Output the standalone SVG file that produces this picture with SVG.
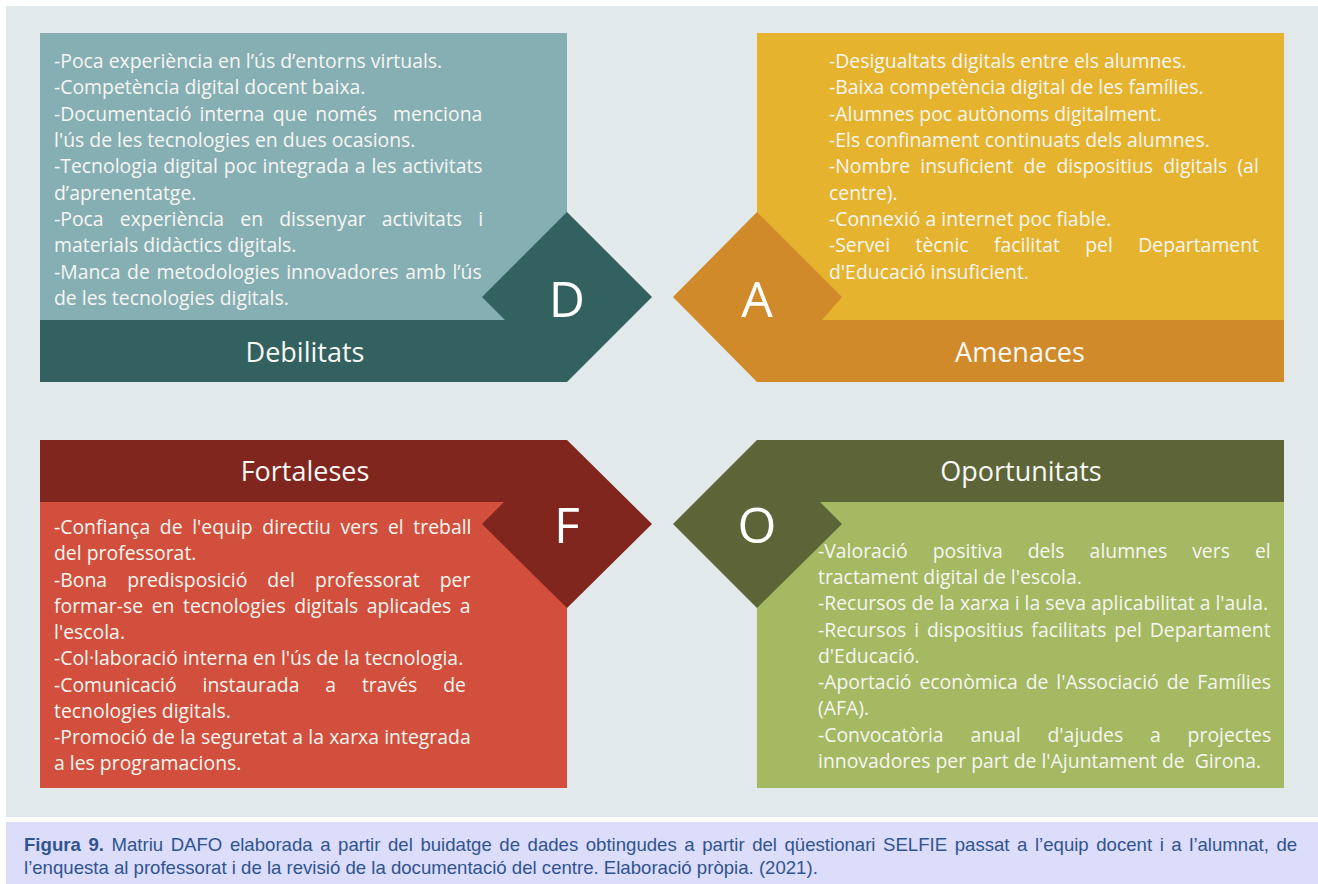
<svg xmlns="http://www.w3.org/2000/svg" width="1318" height="884" viewBox="0 0 1318 884">
<style>
.t{font-family:"Open Sans","Noto Sans",sans-serif;font-size:19.4px;fill:#f6f6f2}
.h{font-family:"Open Sans","Noto Sans",sans-serif;font-size:27px;fill:#f8f8f5;text-anchor:middle}
.L{font-family:"Open Sans","Noto Sans",sans-serif;font-size:50px;fill:#ffffff;text-anchor:middle}
.c{font-family:"Liberation Sans",Arial,sans-serif;font-size:18.6px;fill:#30548f}
</style>
<rect x="0" y="0" width="1318" height="884" fill="#ffffff"/>
<rect x="6" y="6" width="1312" height="811" fill="#e2e9eb"/>
<rect x="6" y="822" width="1312" height="62" fill="#dcdcfb"/>

<g id="D">
<rect x="40" y="33" width="527" height="287" fill="#86afb4"/>
<polygon points="40,320 505,320 482,297 567,212 652,297 567,382 40,382" fill="#336160"/>
<text class="L" x="567" y="317">D</text>
<text class="h" x="305" y="362">Debilitats</text>
<g transform="translate(0,1.5)">
<text class="t" x="54" y="66">-Poca experiència en l’ús d’entorns virtuals.</text>
<text class="t" x="54" y="92">-Competència digital docent baixa.</text>
<text class="t" x="54" y="119" xml:space="preserve" style="word-spacing:3px">-Documentació interna que només  menciona</text>
<text class="t" x="54" y="145">l'ús de les tecnologies en dues ocasions.</text>
<text class="t" x="54" y="171" style="word-spacing:0.8px">-Tecnologia digital poc integrada a les activitats</text>
<text class="t" x="54" y="198">d’aprenentatge.</text>
<text class="t" x="54" y="224" style="word-spacing:11.1px">-Poca experiència en dissenyar activitats i</text>
<text class="t" x="54" y="250">materials didàctics digitals.</text>
<text class="t" x="54" y="277" style="word-spacing:1.6px">-Manca de metodologies innovadores amb l’ús</text>
<text class="t" x="54" y="303">de les tecnologies digitals.</text>
</g>
</g>

<g id="A">
<rect x="757" y="33" width="527" height="287" fill="#e6b32e"/>
<polygon points="1284,320 822,320 842,297 757,212 673,297 757,382 1284,382" fill="#d08a2a"/>
<text class="L" x="757" y="317">A</text>
<text class="h" x="1020" y="362">Amenaces</text>
<g transform="translate(0,1.5)">
<text class="t" x="829" y="66">-Desigualtats digitals entre els alumnes.</text>
<text class="t" x="829" y="92">-Baixa competència digital de les famílies.</text>
<text class="t" x="829" y="119">-Alumnes poc autònoms digitalment.</text>
<text class="t" x="829" y="145">-Els confinament continuats dels alumnes.</text>
<text class="t" x="829" y="171" style="word-spacing:5.1px">-Nombre insuficient de dispositius digitals (al</text>
<text class="t" x="829" y="198">centre).</text>
<text class="t" x="829" y="224">-Connexió a internet poc fiable.</text>
<text class="t" x="829" y="250" style="word-spacing:20.3px">-Servei tècnic facilitat pel Departament</text>
<text class="t" x="829" y="277">d'Educació insuficient.</text>
</g>
</g>

<g id="F">
<rect x="40" y="502" width="527" height="286" fill="#d14f3c"/>
<polygon points="40,440 567,440 652,524 567,608 482,524 504,502 40,502" fill="#80261f"/>
<text class="L" x="567" y="543">F</text>
<text class="h" x="305" y="481">Fortaleses</text>
<g transform="translate(0,1.5)">
<text class="t" x="54" y="532" style="word-spacing:4.6px">-Confiança de l'equip directiu vers el treball</text>
<text class="t" x="54" y="558">del professorat.</text>
<text class="t" x="54" y="585" style="word-spacing:15px">-Bona predisposició del professorat per</text>
<text class="t" x="54" y="611" style="word-spacing:3.5px">formar-se en tecnologies digitals aplicades a</text>
<text class="t" x="54" y="637">l'escola.</text>
<text class="t" x="54" y="663">-Col·laboració interna en l'ús de la tecnologia.</text>
<text class="t" x="54" y="690" style="word-spacing:20.8px">-Comunicació instaurada a través de</text>
<text class="t" x="54" y="716">tecnologies digitals.</text>
<text class="t" x="54" y="742" style="word-spacing:0.2px">-Promoció de la seguretat a la xarxa integrada</text>
<text class="t" x="54" y="768">a les programacions.</text>
</g>
</g>

<g id="O">
<rect x="757" y="502" width="527" height="286" fill="#a5b862"/>
<polygon points="1284,440 757,440 673,524 757,608 842,524 820,502 1284,502" fill="#5c6438"/>
<text class="L" x="757" y="543">O</text>
<text class="h" x="1021" y="481">Oportunitats</text>
<g transform="translate(0,1.5)">
<text class="t" x="818" y="556" style="word-spacing:20px">-Valoració positiva dels alumnes vers el</text>
<text class="t" x="818" y="582">tractament digital de l'escola.</text>
<text class="t" x="818" y="608">-Recursos de la xarxa i la seva aplicabilitat a l'aula.</text>
<text class="t" x="818" y="635" style="word-spacing:2.8px">-Recursos i dispositius facilitats pel Departament</text>
<text class="t" x="818" y="661">d'Educació.</text>
<text class="t" x="818" y="687" style="word-spacing:2.9px">-Aportació econòmica de l'Associació de Famílies</text>
<text class="t" x="818" y="713">(AFA).</text>
<text class="t" x="818" y="740" style="word-spacing:21.8px">-Convocatòria anual d'ajudes a projectes</text>
<text class="t" x="818" y="766" xml:space="preserve">innovadores per part de l'Ajuntament de  Girona.</text>
</g>
</g>

<g id="caption">
<text class="c" x="24" y="851" style="word-spacing:2.4px"><tspan font-weight="bold">Figura 9.</tspan> Matriu DAFO elaborada a partir del buidatge de dades obtingudes a partir del qüestionari SELFIE passat a l’equip docent i a l’alumnat, de</text>
<text class="c" x="24" y="874">l’enquesta al professorat i de la revisió de la documentació del centre. Elaboració pròpia. (2021).</text>
</g>
</svg>
